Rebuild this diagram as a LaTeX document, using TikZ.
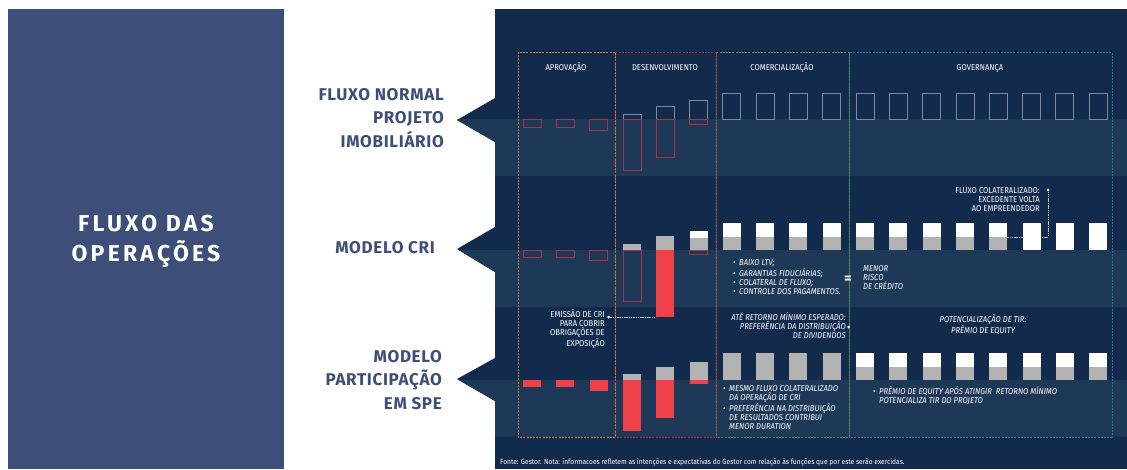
\documentclass[tikz,border=0pt]{standalone}
\usepackage{fontspec}
\setmainfont{Fira Sans}
\newfontfamily\notefont{Fira Sans}[FakeStretch=0.9]
\newfontfamily\headfont{Fira Sans}[LetterSpace=4]
\newfontfamily\titlefont{Fira Sans}[LetterSpace=14]
\definecolor{panelblue}{HTML}{3D4F78}
\definecolor{navy}{HTML}{122A4C}
\definecolor{band}{HTML}{1E3858}
\definecolor{barred}{HTML}{EF4147}
\definecolor{redline}{HTML}{A8344A}
\definecolor{bargray}{HTML}{B3B3B3}
\definecolor{ghost}{HTML}{7A8AA3}
\definecolor{aprovline}{HTML}{C77A2C}
\definecolor{desenvline}{HTML}{A33448}
\definecolor{comercline}{HTML}{5F8A48}
\definecolor{govline}{HTML}{3F6F90}
\newcommand{\colx}[1]{523+33.3*#1}
\newcommand{\bul}{\makebox[6pt][l]{•}}
\newcommand{\nobul}{\makebox[6pt][l]{}}

\begin{document}
\begin{tikzpicture}[x=1pt,y=-1pt,
  rowlabel/.style={text=panelblue, anchor=east, align=right, inner sep=0pt,
    font=\headfont\bfseries\fontsize{17}{23.5}\selectfont},
  titletext/.style={text=white, align=center, inner sep=0pt,
    font=\titlefont\bfseries\fontsize{23}{30}\selectfont},
  phase/.style={dash pattern=on 2pt off 1.2pt, line width=0.6pt},
  phasetitle/.style={text=white, anchor=base, inner sep=0pt,
    font=\notefont\fontsize{8.5}{9}\selectfont},
  note/.style={text=white, inner sep=0pt,
    font=\notefont\fontsize{8.5}{9}\selectfont},
  slanted/.style={note, font=\notefont\itshape\fontsize{8.5}{9}\selectfont},
  ghostbox/.style={draw=ghost, line width=0.7pt},
  redbox/.style={draw=redline, line width=0.7pt},
  leader/.style={draw=white!70!navy, line width=0.5pt, dash pattern=on 1.5pt off 0.8pt},
  dot/.style={circle, fill=white, inner sep=0pt, minimum size=3pt}]
  \useasboundingbox (0,0) rectangle (1127,469);
  \fill[white] (0,0) rectangle (1127,469);
  \fill[panelblue] (8,9) rectangle (284,469);
  \node[titletext] (title) at (146,241) {FLUXO DAS\\OPERAÇÕES};
  \node[rowlabel] (normal) at (444,118) {FLUXO NORMAL\\PROJETO\\IMOBILIÁRIO};
  \node[rowlabel] (cri) at (435,248) {MODELO CRI};
  \node[rowlabel] (spe) at (442,380) {MODELO\\PARTICIPAÇÃO\\EM SPE};
  \begin{scope}
    \clip (495,9) -- (1127,9) -- (1127,469) -- (495,469) -- (495,401)
      -- (457,379) -- (495,358) -- (495,272) -- (457,249) -- (495,227)
      -- (495,142) -- (457,120) -- (495,98) -- cycle;
    \fill[navy] (440,0) rectangle (1127,469);
    \foreach \y in {119,250,380}
      \fill[band] (440,\y) rectangle (1127,\y+57);
  \end{scope}
  \draw[phase, govline] (849,52) rectangle (1112,437);
  \draw[phase, comercline] (716,52) rectangle (849,437);
  \draw[phase, desenvline] (615,52) rectangle (716,437);
  \draw[phase, aprovline] (518,52) rectangle (615,437);
  \node[phasetitle] (aprov) at (566,70) {APROVAÇÃO};
  \node[phasetitle] (desenv) at (665,70) {DESENVOLVIMENTO};
  \node[phasetitle] (comerc) at (782,70) {COMERCIALIZAÇÃO};
  \node[phasetitle] (gov) at (980,70) {GOVERNANÇA};
  \foreach \i/\d in {0/8,1/8,2/11}
    \draw[redbox] (\colx{\i},119) rectangle ++(18,\d);
  \foreach \i/\u/\d in {3/5/51,4/13/38,5/19/5} {
    \draw[ghostbox] (\colx{\i},119) rectangle ++(18,-\u);
    \draw[redbox] (\colx{\i},119) rectangle ++(18,\d);
  }
  \foreach \i in {6,...,17}
    \draw[ghostbox] (\colx{\i},93) rectangle ++(18,26);
  \node[dot] (colatdot) at (1048,190) {};
  \coordinate (colat) at (\colx{14}+18,237);
  \draw[leader] (colat) -| (colatdot);
  \foreach \i/\d in {0/7,1/7,2/10}
    \draw[redbox] (\colx{\i},250) rectangle ++(18,\d);
  \fill[bargray] (\colx{3},244) rectangle ++(18,6);
  \draw[redbox] (\colx{3},250) rectangle ++(18,51);
  \fill[bargray] (\colx{4},236) rectangle ++(18,14);
  \fill[barred] (\colx{4},250) rectangle ++(18,67);
  \fill[white] (\colx{5},231) rectangle ++(18,7);
  \fill[bargray] (\colx{5},238) rectangle ++(18,12);
  \draw[redbox] (\colx{5},250) rectangle ++(18,4);
  \foreach \i in {6,...,14} {
    \fill[white] (\colx{\i},223) rectangle ++(18,14);
    \fill[bargray] (\colx{\i},237) rectangle ++(18,13);
  }
  \foreach \i in {15,16,17}
    \fill[white] (\colx{\i},223) rectangle ++(18,27);
  \foreach \i/\d in {0/7,1/7,2/11}
    \fill[barred] (\colx{\i},380) rectangle ++(18,\d);
  \foreach \i/\u/\d in {3/6/51,4/13/38,5/18/4} {
    \fill[bargray] (\colx{\i},380) rectangle ++(18,-\u);
    \fill[barred] (\colx{\i},380) rectangle ++(18,\d);
  }
  \foreach \i in {6,...,9}
    \fill[bargray] (\colx{\i},353) rectangle ++(18,27);
  \foreach \i in {10,...,17} {
    \fill[white] (\colx{\i},353) rectangle ++(18,14);
    \fill[bargray] (\colx{\i},367) rectangle ++(18,13);
  }
  \node[note, anchor=base east, align=right] (colattext) at (1040,211)
    {FLUXO COLATERALIZADO:\\EXCEDENTE VOLTA\\AO EMPREENDEDOR};
  \node[slanted, anchor=base west, align=left] (garantias) at (733,294)
    {\bul BAIXO LTV;\\\bul GARANTIAS FIDUCIÁRIAS;\\\bul COLATERAL DE FLUXO;\\\bul CONTROLE DOS PAGAMENTOS.};
  \node[text=white, font=\bfseries\fontsize{15}{15}\selectfont] (equals) at (848,280) {=};
  \node[slanted, anchor=base west, align=left] (risco) at (863,289)
    {MENOR\\RISCO\\DE CRÉDITO};
  \node[dot] (emissaodot) at (608.5,317) {};
  \coordinate (crired) at (\colx{4},317);
  \draw[leader] (emissaodot) -- (crired);
  \node[note, anchor=base east, align=right] (emissao) at (605,346)
    {EMISSÃO DE CRI\\PARA COBRIR\\OBRIGAÇÕES DE\\EXPOSIÇÃO};
  \node[slanted, anchor=base east, align=right] (retorno) at (846,338)
    {ATÉ RETORNO MÍNIMO ESPERADO:\\PREFERÊNCIA DA DISTRIBUIÇÃO\\DE DIVIDENDOS};
  \node[dot] (retornodot) at (848.5,327) {};
  \node[slanted, anchor=base, align=center] (tir) at (983,333)
    {POTENCIALIZAÇÃO DE TIR:\\PRÊMIO DE EQUITY};
  \node[slanted, anchor=base west, align=left] (mesmo) at (723,429)
    {\bul MESMO FLUXO COLATERALIZADO\\\nobul DA OPERAÇÃO DE CRI\\\bul PREFERÊNCIA NA DISTRIBUIÇÃO\\\nobul DE RESULTADOS CONTRIBUI\\\nobul MENOR DURATION};
  \node[slanted, anchor=base west, align=left] (premio) at (873,403)
    {\bul PRÊMIO DE EQUITY APÓS ATINGIR\ \ RETORNO MÍNIMO\\\nobul POTENCIALIZA TIR DO PROJETO};
  \node[note, anchor=base west, font=\notefont\fontsize{7.4}{8}\selectfont] (fonte) at (500,464)
    {Fonte: Gestor. Nota: informacoes refletem as intenções e expectativas do Gestor com relação às funções que por este serão exercidas.};
\end{tikzpicture}
\end{document}
